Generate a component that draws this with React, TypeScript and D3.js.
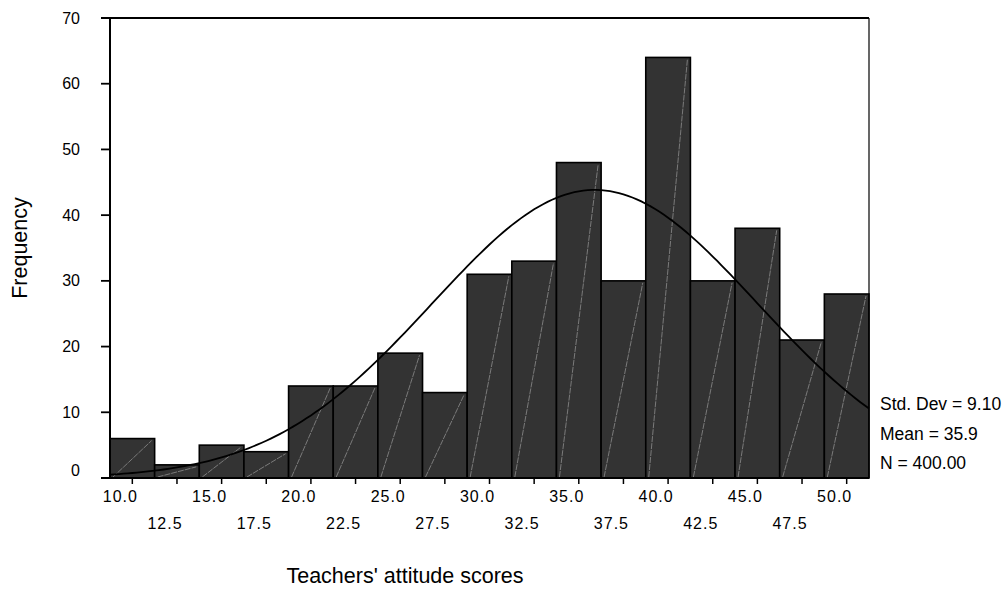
import { useEffect, useRef } from 'react';
import * as d3 from 'd3';

// bin centres and counts
const binCenters = [10, 12.5, 15, 17.5, 20, 22.5, 25, 27.5, 30, 32.5, 35, 37.5, 40, 42.5, 45, 47.5, 50];
const counts = [6, 2, 5, 4, 14, 14, 19, 13, 31, 33, 48, 30, 64, 30, 38, 21, 28];
const yTicks = [0, 10, 20, 30, 40, 50, 60, 70];
const statLines = ['Std. Dev = 9.10', 'Mean = 35.9', 'N = 400.00'];
const stats = { mean: 35.9, sd: 9.1, n: 400 };
const binWidth = 2.5;

const W = 1006;
const H = 590;
const margin = { top: 18, right: 137, bottom: 112, left: 110 };
const FONT = '"Liberation Sans", Arial, sans-serif';

const App = () => {
    const svgRef = useRef<SVGSVGElement>(null);

    useEffect(() => {
        if (!svgRef.current) return;
        d3.select(svgRef.current).selectAll('*').remove();

        const innerWidth = W - margin.left - margin.right;
        const innerHeight = H - margin.top - margin.bottom;

        const svg = d3.select(svgRef.current)
            .attr('width', W)
            .attr('height', H)
            .append('g')
            .attr('transform', `translate(${margin.left},${margin.top})`)
            .style('font-family', FONT);

        const xScale = d3.scaleLinear()
            .domain([binCenters[0] - binWidth / 2, binCenters[binCenters.length - 1] + binWidth / 2])
            .range([0, innerWidth]);

        const yScale = d3.scaleLinear()
            .domain([0, 70])
            .range([innerHeight, 0]);

        // Bars
        const bars = svg.append('g');
        binCenters.forEach((c, i) => {
            const x0 = xScale(c - binWidth / 2);
            const x1 = xScale(c + binWidth / 2);
            const y = yScale(counts[i]);
            bars.append('rect')
                .attr('x', x0)
                .attr('y', y)
                .attr('width', x1 - x0)
                .attr('height', innerHeight - y)
                .attr('fill', '#333333')
                .attr('stroke', '#000')
                .attr('stroke-width', 1.6);
            // light diagonal hatch line
            bars.append('line')
                .attr('x1', x0 + 3)
                .attr('y1', innerHeight - 1)
                .attr('x2', x1 - 3)
                .attr('y2', y + 2)
                .attr('stroke', '#9a9a9a')
                .attr('stroke-width', 0.7)
                .attr('stroke-dasharray', '6,1');
        });

        // Normal curve from stats
        const peak = stats.n * binWidth / (stats.sd * Math.sqrt(2 * Math.PI));
        const xs = d3.range(xScale.domain()[0], xScale.domain()[1] + 0.001, 0.25);
        const line = d3.line<number>()
            .x(d => xScale(d))
            .y(d => yScale(peak * Math.exp(-0.5 * ((d - stats.mean) / stats.sd) ** 2)));
        svg.append('path')
            .datum(xs)
            .attr('fill', 'none')
            .attr('stroke', '#000')
            .attr('stroke-width', 1.8)
            .attr('d', line);

        // Frame
        svg.append('line')
            .attr('x1', -9).attr('x2', innerWidth)
            .attr('y1', 0).attr('y2', 0)
            .attr('stroke', '#000').attr('stroke-width', 1.8);
        svg.append('line')
            .attr('x1', innerWidth).attr('x2', innerWidth)
            .attr('y1', 0).attr('y2', innerHeight)
            .attr('stroke', '#000').attr('stroke-width', 1.2);
        svg.append('line')
            .attr('x1', 0).attr('x2', 0)
            .attr('y1', 0).attr('y2', innerHeight)
            .attr('stroke', '#000').attr('stroke-width', 2);
        svg.append('line')
            .attr('x1', -9).attr('x2', innerWidth)
            .attr('y1', innerHeight).attr('y2', innerHeight)
            .attr('stroke', '#000').attr('stroke-width', 2);

        // Y ticks
        const yAxis = svg.append('g');
        yTicks.forEach(t => {
            yAxis.append('line')
                .attr('x1', -9).attr('x2', 0)
                .attr('y1', yScale(t)).attr('y2', yScale(t))
                .attr('stroke', '#000').attr('stroke-width', 1.8);
            yAxis.append('text')
                .attr('x', -30)
                .attr('y', yScale(t) + (t === 0 ? -8 : 0))
                .attr('dy', '0.35em')
                .attr('text-anchor', 'end')
                .style('font-size', '16px')
                .text(t);
        });

        // X ticks, staggered labels
        const xAxis = svg.append('g');
        binCenters.forEach((c, i) => {
            const x = xScale(c);
            xAxis.append('line')
                .attr('x1', x).attr('x2', x)
                .attr('y1', innerHeight).attr('y2', innerHeight + 6)
                .attr('stroke', '#000').attr('stroke-width', 1.5);
            xAxis.append('text')
                .attr('x', x - 12)
                .attr('y', (i % 2 === 0 ? 502 : 529) - margin.top)
                .attr('text-anchor', 'middle')
                .style('font-size', '16px')
                .style('letter-spacing', '1px')
                .text(c.toFixed(1));
        });

        // Stats box
        statLines.forEach((s, i) => {
            svg.append('text')
                .attr('x', 880 - margin.left)
                .attr('y', 410 + i * 29.5 - margin.top)
                .style('font-size', '17.5px')
                .text(s);
        });

        // Axis titles
        svg.append('text')
            .attr('transform', `translate(${27 - margin.left},${248 - margin.top}) rotate(-90)`)
            .attr('text-anchor', 'middle')
            .style('font-size', '21.5px')
            .text('Frequency');

        svg.append('text')
            .attr('x', 405 - margin.left)
            .attr('y', 583 - margin.top)
            .attr('text-anchor', 'middle')
            .style('font-size', '21.5px')
            .text("Teachers' attitude scores");
    }, []);

    return (
        <svg ref={svgRef} role="img" aria-label="Histogram of teachers' attitude scores"
            style={{ position: 'absolute', left: 0, top: 0, background: '#fff' }}></svg>
    );
};

export default App;
